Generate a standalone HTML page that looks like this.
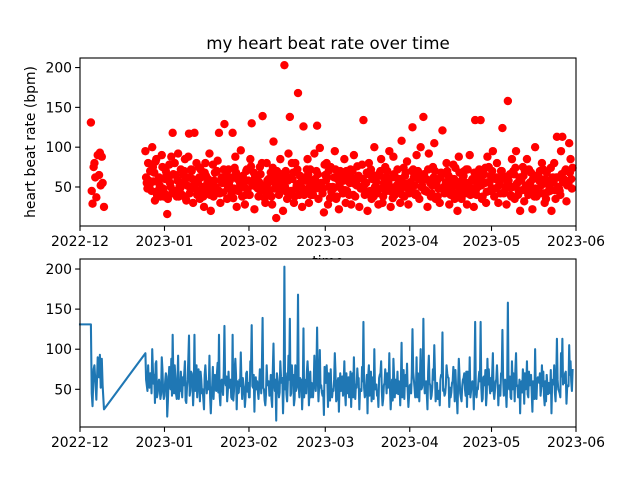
<!DOCTYPE html>
<html><head><meta charset="utf-8"><style>
html,body{margin:0;padding:0;background:#fff;}
svg{display:block;font-family:"DejaVu Sans","Liberation Sans",sans-serif;}
</style></head><body>
<svg id="fig" width="640" height="480" viewBox="0 0 640 480" xmlns="http://www.w3.org/2000/svg"></svg>
<script>
// ---- data ----
const monthLabels = ["2022-12","2023-01","2023-02","2023-03","2023-04","2023-05","2023-06"];
const monthDays = [0,31,62,90,121,151,182];
const yTicks = [50,100,150,200];
const lineStartDay = [0];
const lineStartRate = [131];
const decDays = [4,4.3,4.6,5,5.3,5.6,6,6.5,7,7.3,7.6,8,8.3,8.8];
const decRates = [131,45,29,75,80,62,37,90,65,93,52,88,55,25];
const firstDay = 24;
const dailyRates = [
[95,55],[80,52],[70,100],[57,33],[85,45],[62,38],[90,48],[42,70],[16,60],[55,88],
[118,45],[65,38],[92,50],[72,40],[55,85],[33,62],[117,48],[70,30],[118,58],[40,75],
[35,62],[50,25],[80,45],[60,92],[20,55],[38,68],[48,83],[118,30],[62,43],[129,55],
[35,72],[58,40],[118,48],[88,25],[45,62],[96,38],[55,28],[70,47],[40,85],[130,52],
[22,65],[60,38],[75,45],[139,50],[30,80],[55,42],[68,28],[107,48],[11,62],[40,85],
[58,20],[203,70],[35,92],[138,45],[60,30],[80,52],[168,40],[55,25],[126,62],[45,85],
[30,72],[58,40],[92,48],[127,35],[99,55],[42,18],[65,80],[28,50],[75,40],[48,95],
[35,60],[22,70],[58,42],[85,30],[45,65],[55,28],[70,90],[38,52],[62,25],[48,78],
[134,40],[55,20],[80,45],[35,65],[100,50],[42,28],[68,85],[30,55],[75,45],[52,95],
[25,62],[88,40],[45,72],[60,30],[108,50],[38,68],[82,28],[55,45],[125,62],[40,90],
[70,35],[100,52],[138,45],[60,25],[92,55],[42,75],[105,35],[58,48],[30,68],[121,50],
[45,80],[65,28],[40,58],[78,35],[52,20],[88,45],[35,62],[70,42],[28,55],[90,48],
[60,25],[134,40],[50,72],[134,35],[65,55],[30,88],[75,45],[48,95],[38,60],[80,30],
[55,70],[124,42],[62,28],[158,50],[40,85],[70,35],[95,55],[45,20],[60,75],[32,50],
[85,40],[55,68],[22,48],[100,38],[65,58],[42,80],[72,30],[35,55],[58,45],[20,62],
[80,35],[113,50],[45,95],[113,60],[70,32],[55,105],[85,48]
];
const extraRates = [
[62,78,48],[58,85,70],[45,62,75],[68,50,82],[40,72,58],[52,65,44],[75,56,38],[60,48,66],
[35,55,78],[50,70,42],[66,52,80],[44,74,58],[38,60,48],[55,80,65],[70,46,36],[52,64,88],
[42,58,72],[60,38,52],[48,66,80],[56,42,62],[72,50,45],[38,58,68],[64,48,55],[50,72,40],
[44,62,78],[58,36,50],[70,54,46],[42,65,58],[55,48,72],[60,40,66],[48,70,52],[62,44,38],
[36,56,74],[68,50,60],[46,78,54],[58,42,64],[50,66,40],[72,48,58],[40,62,76],[54,45,68],
[62,38,50],[48,72,56],[66,44,80],[52,60,36],[44,70,58],[60,50,46],[38,64,74],[56,42,62],
[70,48,54],[46,58,66],[64,40,52],[50,74,44],[58,46,62],[42,66,80],[68,52,38],[48,60,72],
[54,44,64],[62,70,48],[40,56,58],[72,46,66],[50,62,40],[44,76,56],[60,48,70],[66,38,54],
[52,64,46],[48,58,78],[58,42,62],[70,54,36],[44,68,50],[62,46,72],[38,56,64],[54,74,48],
[66,42,58],[46,60,70],[58,50,40],[72,44,62],[40,66,54],[56,48,76],[64,38,50],[48,70,60],
[52,58,44],[68,46,66],[42,62,72],[60,52,38],[50,74,56],[46,40,64],[70,56,48],[38,64,58],
[62,44,70],[54,68,50],[44,58,36],[66,48,62],[52,72,44],[58,40,60],[40,62,74],[64,50,54],
[48,66,42],[56,46,70],[72,58,52],[42,64,40],[60,48,66],[50,70,58],[66,42,46],[44,56,72],
[58,64,38],[52,46,62],[70,60,54],[38,72,48],[62,50,66],[48,58,42],[56,40,70],[64,68,52],
[46,54,60],[60,44,74],[42,66,56],[68,50,40],[54,62,64],[50,46,72],[72,56,44],[40,64,58],
[58,48,68],[46,70,52],[62,42,60],[52,58,38],[66,50,74],[44,62,56],[56,46,64],[70,58,48],
[48,40,62],[60,66,52],[42,54,70],[64,48,44],[50,72,58],[58,44,66],[38,60,50],[66,52,74],
[54,46,40],[62,68,58],[46,56,64],[70,42,52],[44,62,72],[56,50,46],[60,66,38],[48,58,62],
[64,44,70],[52,72,54],[42,48,60],[68,58,44],[50,64,74],[58,40,56],[46,70,62],[62,52,48],
[40,60,66],[56,46,58],[72,62,52],[54,44,68],[60,56,74]
];
// ---- layout ----
const NS="http://www.w3.org/2000/svg";
const svg=document.getElementById('fig');
const X0=80,X1=576,DMAX=182;
const xs=d=>X0+(d/DMAX)*(X1-X0);
const topAx={y0:58,y1:226,vmin:1,vmax:212};
const botAx={y0:259,y1:427,vmin:3,vmax:212.5};
function ys(ax,v){return ax.y1-(v-ax.vmin)/(ax.vmax-ax.vmin)*(ax.y1-ax.y0);}
function mk(tag,attrs,parent){const e=document.createElementNS(NS,tag);for(const k in attrs)e.setAttribute(k,attrs[k]);(parent||svg).appendChild(e);return e;}
const ptsD=[],ptsR=[];
for(let i=0;i<decDays.length;i++){ptsD.push(decDays[i]);ptsR.push(decRates[i]);}
for(let i=0;i<dailyRates.length;i++){
  const row=dailyRates[i];
  const ex=extraRates[i]||[];
  const seq=[];
  if(row.length>0)seq.push(row[0]);
  if(ex.length>0)seq.push(ex[0]);
  for(let k=1;k<row.length;k++)seq.push(row[k]);
  if(ex.length>2)seq.push(ex[2]);
  for(let k=0;k<seq.length;k++){ptsD.push(firstDay+i+k/seq.length);ptsR.push(seq[k]);}
}

function drawAxes(ax,name){
  const g=mk('g',{});
  
  
  const bg=mk('rect',{x:X0,y:ax.y0,width:X1-X0,height:ax.y1-ax.y0,fill:'#fff'},g);
  
  
  return g;
}
function drawFrame(ax,name,g){
  const fr=mk('rect',{x:X0,y:ax.y0,width:X1-X0,height:ax.y1-ax.y0,fill:'none',stroke:'#000','stroke-width':1.1},g);
  
  
  for(let i=0;i<monthDays.length;i++){
    const x=xs(monthDays[i]);
    const t=mk('line',{x1:x,x2:x,y1:ax.y1,y2:ax.y1+4.9,stroke:'#000','stroke-width':1.1},g);
    
    
    const l=mk('text',{x:x,y:ax.y1+20,'text-anchor':'middle','font-size':13.9,fill:'#000'},g);
    l.textContent=monthLabels[i];
    
    
  }
  for(let i=0;i<yTicks.length;i++){
    const y=ys(ax,yTicks[i]);
    const t=mk('line',{x1:X0-4.9,x2:X0,y1:y,y2:y,stroke:'#000','stroke-width':1.1},g);
    
    
    const l=mk('text',{x:X0-8,y:y+5,'text-anchor':'end','font-size':13.9,fill:'#000'},g);
    l.textContent=yTicks[i];
    
    
  }
}
const gt=drawAxes(topAx,'top');
const sg=mk('g',{fill:'#ff0000'},gt);


for(let i=0;i<ptsD.length;i++){
  const c=mk('circle',{cx:xs(ptsD[i]),cy:ys(topAx,ptsR[i]),r:4.2},sg);
  
  
}
drawFrame(topAx,'top',gt);
const title=mk('text',{x:328,y:49,'text-anchor':'middle','font-size':16.7,fill:'#000'});
title.textContent='my heart beat rate over time';


const yl=mk('text',{x:0,y:0,'text-anchor':'middle','font-size':13.9,fill:'#000',transform:'translate(35,142) rotate(-90)'});
yl.textContent='heart beat rate (bpm)';


const xl=mk('text',{x:328,y:266,'text-anchor':'middle','font-size':13.9,fill:'#000'});
xl.textContent='time';


const gb=drawAxes(botAx,'bottom');
let d='M'+xs(lineStartDay[0]).toFixed(2)+','+ys(botAx,lineStartRate[0]).toFixed(2);
for(let i=0;i<ptsD.length;i++){d+=' L'+xs(ptsD[i]).toFixed(2)+','+ys(botAx,ptsR[i]).toFixed(2);}
const ln=mk('path',{d:d,fill:'none',stroke:'#1f77b4','stroke-width':2.08,'stroke-linejoin':'round','stroke-linecap':'square'},gb);


drawFrame(botAx,'bottom',gb);
</script>
</body></html>
